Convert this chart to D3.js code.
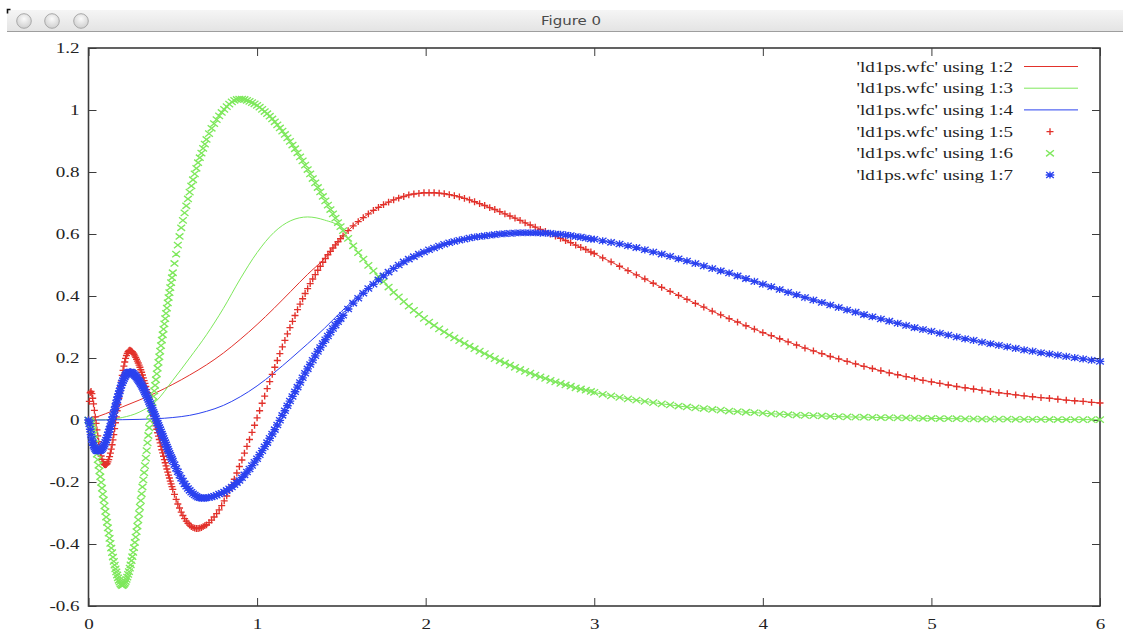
<!DOCTYPE html>
<html>
<head>
<meta charset="utf-8">
<script src="https://cdn.jsdelivr.net/npm/d3@7"></script>
<style>
  html, body { margin: 0; padding: 0; background: #fff; }
  svg { display: block; }
</style>
</head>
<body>
<svg id="chart" width="1123" height="634"></svg>
<script>
"use strict";

//data: radial grid shared by the all-electron columns

const radius = [
  0, 0.005, 0.01, 0.015, 0.02, 0.025, 0.03, 0.035, 0.04, 0.045,
  0.05, 0.055, 0.06, 0.065, 0.07, 0.075, 0.08, 0.085, 0.09, 0.095,
  0.100, 0.105, 0.110, 0.115, 0.120, 0.125, 0.130, 0.135, 0.140, 0.145,
  0.150, 0.155, 0.160, 0.165, 0.170, 0.175, 0.180, 0.185, 0.190, 0.195,
  0.200, 0.205, 0.210, 0.215, 0.220, 0.225, 0.230, 0.235, 0.240, 0.245,
  0.250, 0.255, 0.260, 0.265, 0.270, 0.275, 0.280, 0.285, 0.290, 0.295,
  0.300, 0.305, 0.310, 0.315, 0.320, 0.325, 0.330, 0.335, 0.340, 0.345,
  0.350, 0.355, 0.360, 0.365, 0.370, 0.375, 0.380, 0.385, 0.390, 0.395,
  0.400, 0.405, 0.410, 0.415, 0.420, 0.425, 0.430, 0.435, 0.440, 0.445,
  0.450, 0.455, 0.460, 0.465, 0.470, 0.475, 0.480, 0.485, 0.490, 0.495,
  0.50, 0.51, 0.52, 0.53, 0.54, 0.55, 0.56, 0.57, 0.58, 0.59,
  0.60, 0.61, 0.62, 0.63, 0.64, 0.65, 0.66, 0.67, 0.68, 0.69,
  0.700, 0.715, 0.730, 0.745, 0.760, 0.775, 0.790, 0.805, 0.820, 0.835,
  0.850, 0.865, 0.880, 0.895, 0.910, 0.925, 0.940, 0.955, 0.970, 0.985,
  1.000, 1.015, 1.030, 1.045, 1.060, 1.075, 1.090, 1.105, 1.120, 1.135,
  1.150, 1.165, 1.180, 1.195, 1.210, 1.225, 1.240, 1.255, 1.270, 1.285,
  1.300, 1.315, 1.330, 1.345, 1.360, 1.375, 1.390, 1.405, 1.420, 1.435,
  1.450, 1.465, 1.480, 1.495,
  1.51, 1.54, 1.57, 1.60, 1.63, 1.66, 1.69, 1.72, 1.75, 1.78,
  1.81, 1.84, 1.87, 1.90, 1.93, 1.96, 1.99, 2.02, 2.05, 2.08,
  2.11, 2.14, 2.17, 2.20, 2.23, 2.26, 2.29, 2.32, 2.35, 2.38,
  2.41, 2.44, 2.47, 2.50, 2.53, 2.56, 2.59, 2.62, 2.65, 2.68,
  2.71, 2.74, 2.77, 2.80, 2.83, 2.86, 2.89, 2.92, 2.95, 2.98,
  3.00, 3.05, 3.10, 3.15, 3.20, 3.25, 3.30, 3.35, 3.40, 3.45,
  3.50, 3.55, 3.60, 3.65, 3.70, 3.75, 3.80, 3.85, 3.90, 3.95,
  4.00, 4.05, 4.10, 4.15, 4.20, 4.25, 4.30, 4.35, 4.40, 4.45,
  4.50, 4.55, 4.60, 4.65, 4.70, 4.75, 4.80, 4.85, 4.90, 4.95,
  5.00, 5.05, 5.10, 5.15, 5.20, 5.25, 5.30, 5.35, 5.40, 5.45,
  5.50, 5.55, 5.60, 5.65, 5.70, 5.75, 5.80, 5.85, 5.90, 5.95,
  6.00
];

//column 5 (red +)

const col5 = [
  0, 0.06, 0.088, 0.092, 0.085, 0.07, 0.052, 0.031, 0.01, -0.011,
  -0.032, -0.051, -0.07, -0.087, -0.103, -0.116, -0.127, -0.135, -0.141, -0.144,
  -0.145, -0.144, -0.141, -0.135, -0.128, -0.118, -0.107, -0.094, -0.080, -0.064,
  -0.047, -0.028, -0.009, 0.010, 0.030, 0.050, 0.070, 0.089, 0.108, 0.126,
  0.144, 0.160, 0.174, 0.187, 0.199, 0.208, 0.215, 0.220, 0.224, 0.225,
  0.224, 0.222, 0.220, 0.216, 0.212, 0.207, 0.202, 0.196, 0.190, 0.184,
  0.177, 0.170, 0.162, 0.154, 0.145, 0.136, 0.127, 0.118, 0.108, 0.098,
  0.088, 0.078, 0.068, 0.058, 0.047, 0.036, 0.025, 0.014, 0.003, -0.008,
  -0.019, -0.030, -0.041, -0.052, -0.063, -0.074, -0.085, -0.096, -0.106, -0.117,
  -0.128, -0.138, -0.148, -0.158, -0.168, -0.178, -0.187, -0.197, -0.206, -0.215,
  -0.224, -0.240, -0.256, -0.271, -0.284, -0.297, -0.308, -0.318, -0.326, -0.333,
  -0.339, -0.344, -0.347, -0.349, -0.350, -0.350, -0.349, -0.347, -0.344, -0.341,
  -0.338, -0.331, -0.323, -0.313, -0.302, -0.290, -0.276, -0.261, -0.245, -0.228,
  -0.210, -0.191, -0.171, -0.150, -0.129, -0.107, -0.085, -0.063, -0.040, -0.017,
  0.007, 0.030, 0.054, 0.077, 0.101, 0.124, 0.147, 0.170, 0.192, 0.214,
  0.236, 0.257, 0.278, 0.298, 0.318, 0.337, 0.356, 0.374, 0.391, 0.408,
  0.424, 0.440, 0.455, 0.469, 0.483, 0.496, 0.509, 0.521, 0.533, 0.544,
  0.555, 0.565, 0.575, 0.585,
  0.594, 0.611, 0.626, 0.640, 0.653, 0.665, 0.676, 0.686, 0.695, 0.703,
  0.710, 0.716, 0.721, 0.726, 0.729, 0.731, 0.733, 0.733, 0.733, 0.732,
  0.730, 0.727, 0.724, 0.720, 0.715, 0.710, 0.704, 0.698, 0.692, 0.685,
  0.679, 0.672, 0.665, 0.658, 0.651, 0.644, 0.636, 0.629, 0.622, 0.615,
  0.608, 0.600, 0.593, 0.586, 0.579, 0.572, 0.564, 0.557, 0.550, 0.542,
  0.537, 0.523, 0.510, 0.496, 0.482, 0.468, 0.455, 0.441, 0.428, 0.415,
  0.402, 0.389, 0.376, 0.364, 0.351, 0.339, 0.327, 0.316, 0.304, 0.293,
  0.282, 0.272, 0.262, 0.252, 0.242, 0.232, 0.223, 0.214, 0.205, 0.197,
  0.189, 0.181, 0.173, 0.166, 0.159, 0.152, 0.146, 0.140, 0.134, 0.128,
  0.123, 0.118, 0.113, 0.108, 0.104, 0.100, 0.096, 0.092, 0.088, 0.085,
  0.081, 0.078, 0.075, 0.072, 0.070, 0.067, 0.064, 0.062, 0.060, 0.057,
  0.055
];

//column 6 (green x)

const col6 = [
  0, -0.002, -0.006, -0.013, -0.022, -0.033, -0.046, -0.061, -0.076, -0.093,
  -0.110, -0.128, -0.146, -0.164, -0.183, -0.201, -0.220, -0.239, -0.258, -0.277,
  -0.295, -0.313, -0.330, -0.348, -0.365, -0.382, -0.398, -0.413, -0.428, -0.442,
  -0.456, -0.468, -0.480, -0.490, -0.500, -0.509, -0.517, -0.523, -0.529, -0.532,
  -0.534, -0.533, -0.530, -0.526, -0.521, -0.514, -0.507, -0.498, -0.489, -0.478,
  -0.467, -0.454, -0.441, -0.427, -0.412, -0.395, -0.378, -0.360, -0.342, -0.322,
  -0.302, -0.281, -0.260, -0.238, -0.216, -0.193, -0.170, -0.147, -0.123, -0.099,
  -0.074, -0.050, -0.025, -0.002, 0.020, 0.039, 0.057, 0.076, 0.094, 0.112,
  0.130, 0.149, 0.167, 0.186, 0.204, 0.222, 0.240, 0.258, 0.275, 0.293,
  0.310, 0.327, 0.344, 0.361, 0.378, 0.395, 0.411, 0.427, 0.443, 0.459,
  0.475, 0.505, 0.535, 0.564, 0.592, 0.620, 0.644, 0.668, 0.691, 0.713,
  0.735, 0.755, 0.775, 0.794, 0.812, 0.830, 0.846, 0.861, 0.876, 0.890,
  0.905, 0.924, 0.941, 0.956, 0.969, 0.981, 0.992, 1.002, 1.011, 1.019,
  1.026, 1.031, 1.034, 1.035, 1.035, 1.034, 1.031, 1.028, 1.024, 1.020,
  1.015, 1.009, 1.002, 0.995, 0.988, 0.980, 0.971, 0.962, 0.952, 0.942,
  0.932, 0.921, 0.910, 0.899, 0.887, 0.875, 0.862, 0.849, 0.836, 0.822,
  0.808, 0.794, 0.779, 0.765, 0.750, 0.736, 0.721, 0.707, 0.693, 0.679,
  0.665, 0.651, 0.637, 0.624,
  0.611, 0.586, 0.562, 0.540, 0.519, 0.499, 0.481, 0.463, 0.446, 0.429,
  0.412, 0.397, 0.382, 0.367, 0.354, 0.341, 0.328, 0.316, 0.305, 0.294,
  0.284, 0.274, 0.265, 0.256, 0.247, 0.238, 0.230, 0.222, 0.214, 0.206,
  0.198, 0.191, 0.184, 0.177, 0.170, 0.163, 0.157, 0.151, 0.145, 0.139,
  0.134, 0.128, 0.123, 0.118, 0.113, 0.109, 0.104, 0.100, 0.096, 0.092,
  0.089, 0.083, 0.078, 0.073, 0.068, 0.064, 0.060, 0.056, 0.052, 0.049,
  0.045, 0.042, 0.039, 0.037, 0.034, 0.032, 0.029, 0.027, 0.025, 0.024,
  0.022, 0.020, 0.019, 0.017, 0.016, 0.015, 0.014, 0.013, 0.012, 0.011,
  0.010, 0.0095, 0.009, 0.0085, 0.008, 0.0075, 0.007, 0.0065, 0.006, 0.0055,
  0.005, 0.0047, 0.0044, 0.0041, 0.0038, 0.0035, 0.0032, 0.003, 0.0028, 0.0026,
  0.0024, 0.0022, 0.002, 0.0019, 0.0017, 0.0016, 0.0015, 0.0014, 0.0013, 0.0012,
  0.0011
];

//column 7 (blue *)

const col7 = [
  0, -0.012, -0.030, -0.047, -0.061, -0.073, -0.082, -0.088, -0.093, -0.097,
  -0.099, -0.100, -0.100, -0.099, -0.098, -0.096, -0.093, -0.089, -0.084, -0.078,
  -0.072, -0.065, -0.057, -0.048, -0.039, -0.030, -0.020, -0.010, 0.001, 0.011,
  0.022, 0.033, 0.044, 0.055, 0.065, 0.075, 0.085, 0.094, 0.103, 0.112,
  0.120, 0.127, 0.133, 0.139, 0.144, 0.148, 0.151, 0.153, 0.154, 0.155,
  0.155, 0.154, 0.152, 0.150, 0.147, 0.144, 0.141, 0.138, 0.134, 0.130,
  0.126, 0.122, 0.117, 0.112, 0.107, 0.102, 0.096, 0.090, 0.084, 0.078,
  0.072, 0.066, 0.059, 0.053, 0.046, 0.039, 0.032, 0.026, 0.019, 0.012,
  0.005, -0.003, -0.010, -0.017, -0.024, -0.031, -0.038, -0.045, -0.052, -0.059,
  -0.066, -0.073, -0.080, -0.087, -0.094, -0.101, -0.107, -0.114, -0.120, -0.126,
  -0.132, -0.144, -0.156, -0.167, -0.178, -0.188, -0.197, -0.206, -0.214, -0.221,
  -0.227, -0.233, -0.238, -0.242, -0.246, -0.249, -0.251, -0.252, -0.252, -0.252,
  -0.251, -0.250, -0.248, -0.246, -0.243, -0.239, -0.236, -0.232, -0.227, -0.222,
  -0.216, -0.209, -0.202, -0.195, -0.186, -0.177, -0.168, -0.158, -0.147, -0.136,
  -0.125, -0.112, -0.099, -0.086, -0.073, -0.059, -0.045, -0.031, -0.016, -0.001,
  0.015, 0.030, 0.046, 0.061, 0.076, 0.091, 0.106, 0.121, 0.136, 0.151,
  0.165, 0.179, 0.193, 0.207, 0.221, 0.234, 0.247, 0.259, 0.271, 0.283,
  0.295, 0.306, 0.317, 0.327,
  0.338, 0.358, 0.377, 0.393, 0.409, 0.424, 0.438, 0.452, 0.465, 0.477,
  0.489, 0.500, 0.510, 0.519, 0.527, 0.535, 0.542, 0.549, 0.555, 0.561,
  0.567, 0.572, 0.576, 0.580, 0.583, 0.587, 0.590, 0.592, 0.594, 0.596,
  0.598, 0.600, 0.601, 0.602, 0.603, 0.604, 0.604, 0.604, 0.604, 0.603,
  0.603, 0.602, 0.600, 0.599, 0.597, 0.595, 0.592, 0.590, 0.587, 0.584,
  0.583, 0.578, 0.573, 0.568, 0.562, 0.556, 0.549, 0.542, 0.535, 0.528,
  0.520, 0.513, 0.505, 0.497, 0.489, 0.481, 0.474, 0.465, 0.456, 0.447,
  0.438, 0.430, 0.421, 0.412, 0.404, 0.395, 0.387, 0.379, 0.371, 0.363,
  0.355, 0.348, 0.340, 0.333, 0.326, 0.319, 0.312, 0.305, 0.298, 0.292,
  0.286, 0.280, 0.274, 0.268, 0.262, 0.257, 0.251, 0.246, 0.241, 0.236,
  0.231, 0.226, 0.222, 0.217, 0.213, 0.209, 0.205, 0.201, 0.197, 0.193,
  0.189
];

//pseudo columns inside the core (outside they coincide with columns 5-7)

const coreRadius = [0, 0.1, 0.2, 0.3, 0.4, 0.5, 0.6, 0.7, 0.8, 0.9, 1.0, 1.1, 1.2, 1.3, 1.4, 1.5, 1.6, 1.7];

const col2 = [0, 0.02, 0.042, 0.064, 0.088, 0.115, 0.145, 0.178, 0.216, 0.26, 0.308, 0.36, 0.415, 0.47, 0.521];
const col3 = [0, 0.001, 0.008, 0.025, 0.06, 0.128, 0.2, 0.275, 0.36, 0.455, 0.54, 0.605, 0.643, 0.655, 0.645, 0.62];
const col4 = [0, 0, 0.001, 0.002, 0.004, 0.008, 0.015, 0.028, 0.047, 0.075, 0.11, 0.152, 0.198, 0.246, 0.296, 0.35, 0.40, 0.445];

//labels and ticks

const legendLabels = [
  "'ld1ps.wfc' using 1:2",
  "'ld1ps.wfc' using 1:3",
  "'ld1ps.wfc' using 1:4",
  "'ld1ps.wfc' using 1:5",
  "'ld1ps.wfc' using 1:6",
  "'ld1ps.wfc' using 1:7"
];

const xTicks = [0, 1, 2, 3, 4, 5, 6];
const yTicks = [-0.6, -0.4, -0.2, 0, 0.2, 0.4, 0.6, 0.8, 1, 1.2];

//styles

const RED = "#e2312b";
const GREEN = "#7ee85c";
const BLUE = "#2b42ef";
const STRETCH = 1.27;
const SERIF = "'Liberation Serif', 'Times New Roman', serif";
const MARK_W = 1.35;

const shapes = {
  plus: "M-3.5,0H3.5M0,-3.4V3.4",
  cross: "M-3.9,-3.1L3.9,3.1M-3.9,3.1L3.9,-3.1",
  star: "M-4.3,0H4.3M0,-3.6V3.6M-3.8,-3L3.8,3M-3.8,3L3.8,-3"
};

//helpers

const zipGrid = (values) => radius.map((r, i) => [r, values[i]]).filter((d) => d[1] !== undefined);

const pseudoLine = (core, outer) => {
  const last = coreRadius[core.length - 1];
  const inside = core.map((v, i) => [coreRadius[i], v]);
  return inside.concat(zipGrid(outer).filter((d) => d[0] > last + 0.01));
};

//svg

const svg = d3.select("#chart");

const x = d3.scaleLinear().domain([0, 6]).range([88.5, 1100]);
const y = d3.scaleLinear().domain([-0.6, 1.2]).range([606, 48]);

//window title bar

const defs = svg.append("defs");

const barGrad = defs.append("linearGradient")
  .attr("id", "bar")
  .attr("x1", 0).attr("y1", 0).attr("x2", 0).attr("y2", 1);
barGrad.append("stop").attr("offset", 0).attr("stop-color", "#f5f5f5");
barGrad.append("stop").attr("offset", 1).attr("stop-color", "#e4e4e4");

const knobGrad = defs.append("radialGradient")
  .attr("id", "knob")
  .attr("cx", 0.5).attr("cy", 0.35).attr("r", 0.6);
knobGrad.append("stop").attr("offset", 0).attr("stop-color", "#fbfbfb");
knobGrad.append("stop").attr("offset", 1).attr("stop-color", "#d2d2d2");

svg.append("rect")
  .attr("x", 7).attr("y", 10)
  .attr("width", 1116).attr("height", 21)
  .attr("fill", "url(#bar)");

svg.append("line")
  .attr("x1", 7).attr("x2", 1123)
  .attr("y1", 31.5).attr("y2", 31.5)
  .attr("stroke", "#9e9e9e");

svg.append("path")
  .attr("d", "M7.5,13.5V9.5H10.5")
  .attr("fill", "none")
  .attr("stroke", "#111")
  .attr("stroke-width", 1.6);

svg.append("g")
  .selectAll("ellipse")
  .data([24, 52, 81])
  .join("ellipse")
  .attr("cx", (d) => d)
  .attr("cy", 21)
  .attr("rx", 7.3)
  .attr("ry", 7.3)
  .attr("fill", "url(#knob)")
  .attr("stroke", "#a9a9a9");

svg.append("text")
  .attr("transform", `translate(571,25) scale(1.2,1)`)
  .attr("text-anchor", "middle")
  .attr("font-family", "'DejaVu Sans', 'Open Sans', sans-serif")
  .attr("font-size", 12.5)
  .attr("fill", "#4a4a4a")
  .text("Figure 0");

//frame and axes

svg.append("rect")
  .attr("x", x(0)).attr("y", y(1.2))
  .attr("width", x(6) - x(0)).attr("height", y(-0.6) - y(1.2))
  .attr("fill", "none")
  .attr("stroke", "#3c3c3c")
  .attr("stroke-width", 1.6);

const fmt = (d) => String(+d.toFixed(1));

const styleAxis = (g) => {
  g.select(".domain").remove();
  g.selectAll(".tick line").attr("stroke", "#3c3c3c");
  g.selectAll(".tick text")
    .attr("fill", "#222")
    .attr("font-family", SERIF)
    .attr("font-size", 15)
    .attr("transform", `scale(${STRETCH},1)`);
};

svg.append("g")
  .attr("transform", `translate(0,${y(-0.6)})`)
  .call(d3.axisBottom(x).tickValues(xTicks).tickSizeInner(-8).tickSizeOuter(0).tickPadding(12).tickFormat(fmt))
  .call(styleAxis);

svg.append("g")
  .attr("transform", `translate(0,${y(1.2)})`)
  .call(d3.axisTop(x).tickValues(xTicks).tickSizeInner(-8).tickSizeOuter(0).tickFormat(""))
  .call(styleAxis);

svg.append("g")
  .attr("transform", `translate(${x(0)},0)`)
  .call(d3.axisLeft(y).tickValues(yTicks).tickSizeInner(-8).tickSizeOuter(0).tickPadding(7).tickFormat(fmt))
  .call(styleAxis);

svg.append("g")
  .attr("transform", `translate(${x(6)},0)`)
  .call(d3.axisRight(y).tickValues(yTicks).tickSizeInner(-8).tickSizeOuter(0).tickFormat(""))
  .call(styleAxis);

//lines (columns 2-4)

const line = d3.line()
  .x((d) => x(d[0]))
  .y((d) => y(d[1]))
  .curve(d3.curveMonotoneX);

const lineSeries = [
  { data: pseudoLine(col2, col5), color: RED },
  { data: pseudoLine(col3, col6), color: GREEN },
  { data: pseudoLine(col4, col7), color: BLUE }
];

svg.append("g")
  .selectAll("path")
  .data(lineSeries)
  .join("path")
  .attr("d", (d) => line(d.data))
  .attr("fill", "none")
  .attr("stroke", (d) => d.color)
  .attr("stroke-width", 1);

//points (columns 5-7)

const pointSeries = [
  { data: zipGrid(col5), color: RED, shape: shapes.plus },
  { data: zipGrid(col6), color: GREEN, shape: shapes.cross },
  { data: zipGrid(col7), color: BLUE, shape: shapes.star }
];

pointSeries.forEach((s) => {
  svg.append("g")
    .selectAll("path")
    .data(s.data)
    .join("path")
    .attr("transform", (d) => `translate(${x(d[0])},${y(d[1])})`)
    .attr("d", s.shape)
    .attr("fill", "none")
    .attr("stroke", s.color)
    .attr("stroke-width", MARK_W);
});

//legend

const legend = svg.append("g");
const rowY = (i) => 66.5 + i * 21.7;
const keys = [
  { color: RED }, { color: GREEN }, { color: BLUE },
  { color: RED, shape: shapes.plus }, { color: GREEN, shape: shapes.cross }, { color: BLUE, shape: shapes.star }
];

legendLabels.forEach((label, i) => {
  legend.append("text")
    .attr("transform", `translate(1013,${rowY(i) + 5}) scale(${STRETCH},1)`)
    .attr("text-anchor", "end")
    .attr("font-family", SERIF)
    .attr("font-size", 15)
    .attr("fill", "#1e1e1e")
    .text(label);

  if (keys[i].shape) {
    legend.append("path")
      .attr("transform", `translate(1050,${rowY(i)})`)
      .attr("d", keys[i].shape)
      .attr("fill", "none")
      .attr("stroke", keys[i].color)
      .attr("stroke-width", MARK_W);
  } else {
    legend.append("line")
      .attr("x1", 1024).attr("x2", 1078)
      .attr("y1", rowY(i)).attr("y2", rowY(i))
      .attr("stroke", keys[i].color)
      .attr("stroke-width", 1);
  }
});
</script>
</body>
</html>
